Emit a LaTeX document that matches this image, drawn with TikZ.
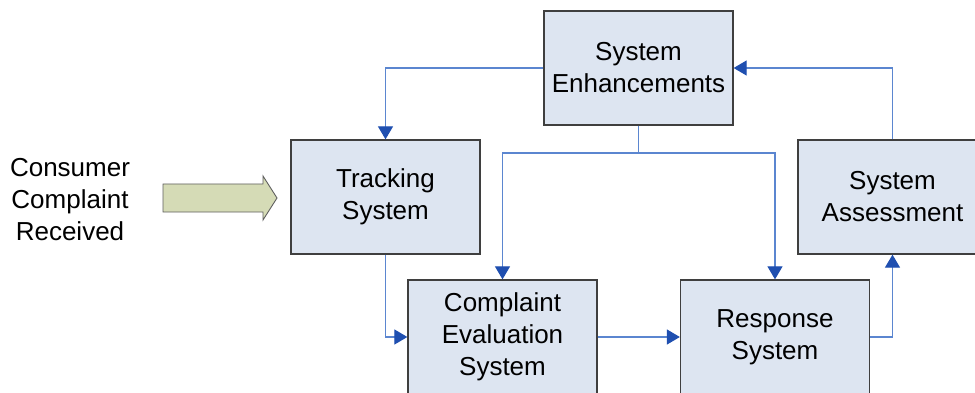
\documentclass[tikz,border=0pt]{standalone}
\usepackage{fontspec}
\setmainfont{Liberation Sans}
\usetikzlibrary{arrows.meta}
\definecolor{boxfill}{HTML}{DDE5F1}
\definecolor{boxline}{HTML}{3F3F3F}
\definecolor{linkline}{HTML}{5B86D0}
\definecolor{linkhead}{HTML}{1F4FB0}
\definecolor{bigarrow}{HTML}{D5DBB6}
\tikzset{
  sysbox/.style={draw=boxline, line width=1.3pt, fill=boxfill,
    minimum width=189pt, minimum height=114pt, inner sep=0pt,
    align=center, font=\fontsize{26}{32}\selectfont},
  link/.style={draw=linkline, line width=1.2pt,
    -{Triangle[length=13pt,width=15pt,color=linkhead]}},
  lbl/.style={align=center, font=\fontsize{26}{32}\selectfont}
}
\begin{document}
\begin{tikzpicture}[x=1pt,y=-1pt]
  \useasboundingbox (0,0) rectangle (975,393);
  \clip (0,0) rectangle (975,393);
  \fill[white] (0,0) rectangle (975,393);

  % process boxes
  \node[sysbox] (enh)  at (638.5,68)  {System\\Enhancements};
  \node[sysbox] (trk)  at (385.5,197) {Tracking\\System};
  \node[sysbox] (eval) at (502.5,337) {Complaint\\Evaluation\\System};
  \node[sysbox] (resp) at (775,337)   {Response\\System};
  \node[sysbox] (asse) at (892.5,197) {System\\Assessment};

  % incoming complaint
  \node[lbl] (src) at (70,200) {Consumer\\Complaint\\Received};
  \coordinate (ba) at (163,198);
  \filldraw[fill=bigarrow, draw=gray!75!black, line width=0.9pt]
    (ba) ++(0,-14) -- ++(100,0) -- ++(0,-8) -- ++(14,22) -- ++(-14,22)
    -- ++(0,-8) -- ++(-100,0) -- cycle;

  % flow connectors
  \coordinate (split) at (638.5,153);
  \draw[link] (enh.west) -| (trk.north);
  \draw[draw=linkline, line width=1.2pt] (enh.south) -- (split);
  \draw[link] (split) -| (eval.north);
  \draw[link] (split) -| (resp.north);
  \draw[link] (trk.south) |- (eval.west);
  \draw[link] (eval.east) -- (resp.west);
  \draw[link] (resp.east) -| (asse.south);
  \draw[link] (asse.north) |- (enh.east);
\end{tikzpicture}
\end{document}
